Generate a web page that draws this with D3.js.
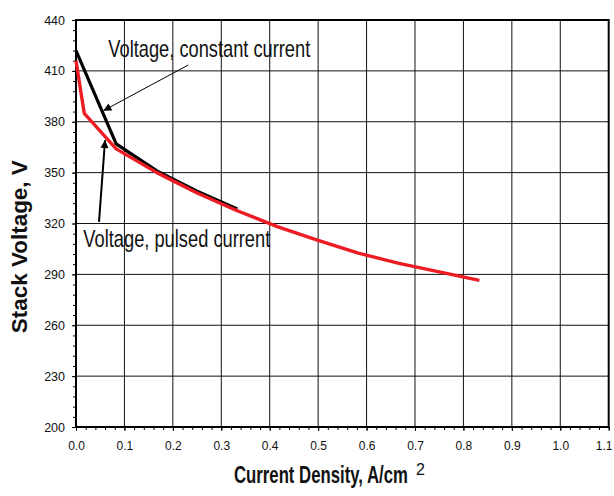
<!DOCTYPE html>
<html>
<head>
<meta charset="utf-8">
<script src="https://cdn.jsdelivr.net/npm/d3@7"></script>
<style>
  body { margin: 0; background: #fff; }
  svg { display: block; font-family: "Liberation Sans", Arial, sans-serif; }
</style>
</head>
<body>
<div id="chart"></div>
<script>
// pulsed current (red) and constant current (black) stack voltage curves
const pulsedJ = [0, 0.017, 0.083, 0.167, 0.25, 0.333, 0.417, 0.5, 0.583, 0.667, 0.75, 0.833]
const pulsedV = [416, 385, 364, 350, 338, 327.5, 318, 310, 302.5, 296.5, 291.5, 286.5]
const constJ = [0, 0.083, 0.167, 0.25, 0.333]
const constV = [422, 367, 351, 339, 328.5]

const xTicks = [0, 0.1, 0.2, 0.3, 0.4, 0.5, 0.6, 0.7, 0.8, 0.9, 1.0, 1.1]
const yTicks = [200, 230, 260, 290, 320, 350, 380, 410, 440]

const WIDTH = 614
const HEIGHT = 496
const margin = { left: 76, right: 5.3, top: 20, bottom: 69 }

const svg = d3.select("#chart")
    .append("svg")
    .attr("width", WIDTH)
    .attr("height", HEIGHT)

const x = d3.scaleLinear()
    .domain([0, 1.1])
    .range([margin.left, WIDTH - margin.right])

const y = d3.scaleLinear()
    .domain([200, 440])
    .range([HEIGHT - margin.bottom, margin.top])

// squeeze a text horizontally to a given width (the source uses a narrow face)
function fitWidth(sel, width) {
    let natural = sel.node().getComputedTextLength()
    let base = sel.attr("transform") || ""
    sel.attr("transform", `${base} scale(${width / natural},1)`)
}

// grid
svg.append("g")
    .selectAll("line")
    .data(xTicks.slice(1, -1))
    .join("line")
        .attr("x1", d => x(d)).attr("x2", d => x(d))
        .attr("y1", y(200)).attr("y2", y(440))
        .attr("stroke", "#111")
        .attr("stroke-width", 1)

svg.append("g")
    .selectAll("line")
    .data(yTicks.slice(1, -1))
    .join("line")
        .attr("x1", x(0)).attr("x2", x(1.1))
        .attr("y1", d => y(d)).attr("y2", d => y(d))
        .attr("stroke", "#111")
        .attr("stroke-width", 1)

// axes with minor ticks
const xMinor = d3.range(0, 1.1001, 0.02)
const yMinor = d3.range(200, 440.001, 6)

svg.append("g")
    .attr("transform", `translate(0,${y(200)})`)
    .call(d3.axisBottom(x).tickValues(xMinor).tickSize(3).tickFormat(""))
    .call(g => g.select(".domain").remove())
    .call(g => g.selectAll("line").attr("stroke-width", 1))

svg.append("g")
    .attr("transform", `translate(0,${y(200)})`)
    .call(d3.axisBottom(x).tickValues(xTicks).tickSize(4).tickPadding(10).tickFormat(d3.format(".1f")))
    .call(g => g.select(".domain").remove())
    .call(g => g.selectAll("text")
        .attr("font-size", "12px")
        .attr("font-family", "Liberation Sans, Arial, sans-serif")
        .attr("fill", "#111"))
    .call(g => g.selectAll(".tick:last-of-type text").attr("dx", "-5"))

svg.append("g")
    .attr("transform", `translate(${x(0)},0)`)
    .call(d3.axisLeft(y).tickValues(yMinor).tickSize(3).tickFormat(""))
    .call(g => g.select(".domain").remove())

svg.append("g")
    .attr("transform", `translate(${x(0)},0)`)
    .call(d3.axisLeft(y).tickValues(yTicks).tickSize(4).tickPadding(7))
    .call(g => g.select(".domain").remove())
    .call(g => g.selectAll("text")
        .attr("font-size", "12.5px")
        .attr("font-family", "Liberation Sans, Arial, sans-serif")
        .attr("fill", "#111"))

// frame
svg.append("rect")
    .attr("x", x(0))
    .attr("y", y(440))
    .attr("width", x(1.1) - x(0))
    .attr("height", y(200) - y(440))
    .attr("fill", "none")
    .attr("stroke", "#000")
    .attr("stroke-width", 2)

// curves
const line = d3.line()
    .x(d => x(d[0]))
    .y(d => y(d[1]))

svg.append("path")
    .datum(d3.zip(constJ, constV))
    .attr("d", line)
    .attr("fill", "none")
    .attr("stroke", "#000")
    .attr("stroke-width", 3.2)
    .attr("stroke-linejoin", "round")

svg.append("path")
    .datum(d3.zip(pulsedJ, pulsedV))
    .attr("d", line)
    .attr("fill", "none")
    .attr("stroke", "#ed1c24")
    .attr("stroke-width", 3.4)
    .attr("stroke-linejoin", "round")

// annotations
svg.append("defs").append("marker")
    .attr("id", "head")
    .attr("viewBox", "0 0 10 10")
    .attr("refX", 10).attr("refY", 5)
    .attr("markerWidth", 10).attr("markerHeight", 8)
    .attr("markerUnits", "userSpaceOnUse")
    .attr("orient", "auto")
    .append("path")
        .attr("d", "M0,0L10,5L0,10Z")
        .attr("fill", "#000")

const notes = [
    { text: "Voltage, constant current", j: 0.0668, v: 418, len: 202,
      from: [0.232, 413.5], to: [0.0564, 386.5], w: 1 },
    { text: "Voltage, pulsed current", j: 0.0151, v: 306.3, len: 187,
      from: [0.0475, 321], to: [0.06, 369.2], w: 2 }
]

notes.forEach(n => {
    svg.append("line")
        .attr("x1", x(n.from[0])).attr("y1", y(n.from[1]))
        .attr("x2", x(n.to[0])).attr("y2", y(n.to[1]))
        .attr("stroke", "#000")
        .attr("stroke-width", n.w)
        .attr("marker-end", "url(#head)")

    svg.append("text")
        .attr("transform", `translate(${x(n.j)},${y(n.v)})`)
        .attr("font-size", "24px")
        .attr("fill", "#111")
        .text(n.text)
        .call(fitWidth, n.len)
})

// axis titles
svg.append("text")
    .attr("transform", "translate(234,483.3)")
    .attr("font-size", "23px")
    .attr("font-weight", "bold")
    .attr("fill", "#111")
    .text("Current Density, A/cm")
    .call(fitWidth, 174)

svg.append("text")
    .attr("x", 416)
    .attr("y", 475)
    .attr("font-size", "16px")
    .attr("fill", "#111")
    .text("2")

svg.append("text")
    .attr("transform", "translate(26.5,246.7) rotate(-90)")
    .attr("text-anchor", "middle")
    .attr("font-size", "22px")
    .attr("font-weight", "bold")
    .attr("fill", "#111")
    .text("Stack Voltage, V")
    .call(fitWidth, 173)
</script>
</body>
</html>
